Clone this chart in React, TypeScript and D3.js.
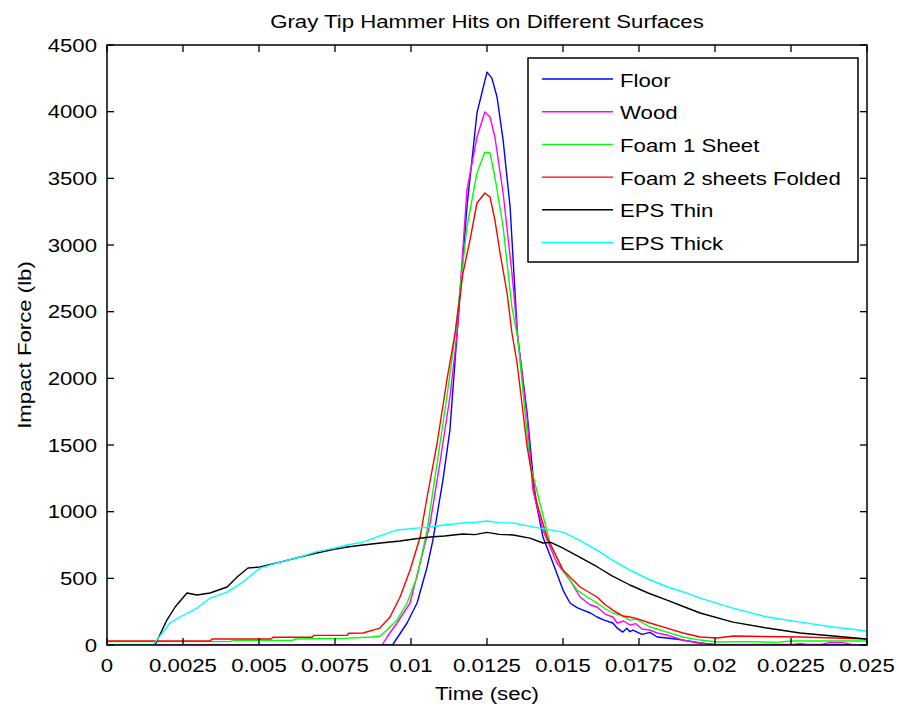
import React from "react";
import * as d3 from "d3";

const title = "Gray Tip Hammer Hits on Different Surfaces";
const xLabel = "Time (sec)";
const yLabel = "Impact Force (lb)";
const xTicks = [0, 0.0025, 0.005, 0.0075, 0.01, 0.0125, 0.015, 0.0175, 0.02, 0.0225, 0.025];
const xTickLabels = ["0", "0.0025", "0.005", "0.0075", "0.01", "0.0125", "0.015", "0.0175", "0.02", "0.0225", "0.025"];
const yTicks = [0, 500, 1000, 1500, 2000, 2500, 3000, 3500, 4000, 4500];

const seriesNames = ["Floor", "Wood", "Foam 1 Sheet", "Foam 2 sheets Folded", "EPS Thin", "EPS Thick"];
const seriesColors = ["#0000ff", "#ff00ff", "#00ff00", "#ff0000", "#000000", "#00ffff"];

const floorData: [number, number][] = [
  [0, 0], [0.0094, 2], [0.00987, 165], [0.0102, 315], [0.01053, 585], [0.01072, 787], [0.01105, 1237],
  [0.01128, 1612], [0.01151, 2320], [0.01184, 3285], [0.01217, 3990], [0.0125, 4297], [0.01266, 4252],
  [0.01283, 4110], [0.01303, 3787], [0.01326, 3285], [0.0135, 2330], [0.01382, 1740], [0.01408, 1110],
  [0.01434, 810], [0.01467, 615], [0.015, 412], [0.01523, 315], [0.01546, 280], [0.01566, 262], [0.0159, 240],
  [0.01612, 210], [0.01635, 187], [0.01664, 165], [0.01678, 127], [0.01697, 97], [0.0171, 125], [0.0172, 100],
  [0.0173, 112], [0.0176, 80], [0.01786, 95], [0.0181, 60], [0.01842, 52], [0.0187, 45], [0.01895, 37],
  [0.01951, 15], [0.0200, 3], [0.0225, 0], [0.0228, 8], [0.0231, 0], [0.025, 0]
];
const woodData: [number, number][] = [
  [0, 0], [0.00905, 0], [0.00921, 60], [0.00954, 165], [0.00997, 315], [0.0103, 615], [0.01063, 915],
  [0.01095, 1365], [0.01128, 1860], [0.01151, 2320], [0.01184, 3412], [0.01217, 3810], [0.01243, 3997],
  [0.0126, 3960], [0.01276, 3810], [0.01303, 3390], [0.01332, 2790], [0.01352, 2287], [0.01382, 1700],
  [0.01401, 1162], [0.01434, 862], [0.0148, 615], [0.01523, 487], [0.01556, 360], [0.0159, 300],
  [0.01612, 285], [0.0164, 230], [0.01664, 210], [0.01678, 165], [0.017, 180], [0.0172, 150], [0.0174, 160],
  [0.0176, 120], [0.01786, 112], [0.0181, 90], [0.01842, 75], [0.0187, 55], [0.01895, 37], [0.01951, 15],
  [0.0201, 3], [0.0235, 5], [0.0238, 20], [0.0242, 18], [0.0245, 5], [0.025, 0]
];
const foam1Data: [number, number][] = [
  [0, 25], [0.004, 25], [0.0042, 35], [0.0061, 35], [0.0062, 45], [0.0078, 50], [0.0087, 60], [0.00898, 67],
  [0.00921, 112], [0.00954, 187], [0.00987, 315], [0.0102, 510], [0.01053, 862], [0.01086, 1365],
  [0.01118, 1860], [0.01145, 2320], [0.01184, 3135], [0.01217, 3540], [0.01243, 3697], [0.0126, 3690],
  [0.01276, 3510], [0.01303, 3135], [0.01332, 2535], [0.01352, 2287], [0.01391, 1365], [0.01424, 1065],
  [0.01457, 765], [0.015, 562], [0.01546, 412], [0.0158, 360], [0.01612, 315], [0.0164, 270], [0.01664, 240],
  [0.0169, 225], [0.0172, 187], [0.0174, 195], [0.01786, 135], [0.0181, 120], [0.01842, 97], [0.01895, 60],
  [0.01951, 37], [0.02007, 22], [0.021, 25], [0.022, 20], [0.0225, 30], [0.0235, 30], [0.025, 30]
];
const foam2Data: [number, number][] = [
  [0, 30], [0.0034, 30], [0.00345, 45], [0.0054, 45], [0.00546, 58], [0.00675, 58], [0.0068, 72],
  [0.0079, 72], [0.00795, 88], [0.00842, 90], [0.00898, 127], [0.00931, 210], [0.00964, 360], [0.00997, 562],
  [0.0103, 810], [0.01053, 1110], [0.01086, 1515], [0.01118, 1987], [0.01145, 2340], [0.01171, 2790],
  [0.01194, 3037], [0.01217, 3315], [0.01243, 3390], [0.0126, 3360], [0.01276, 3187], [0.01293, 2940],
  [0.01316, 2640], [0.01332, 2340], [0.01349, 2115], [0.01382, 1485], [0.01414, 1065], [0.01447, 810],
  [0.015, 562], [0.01556, 435], [0.01612, 360], [0.0164, 300], [0.01664, 262], [0.01697, 217], [0.0172, 210],
  [0.0174, 200], [0.01786, 165], [0.01842, 127], [0.01895, 90], [0.01951, 60], [0.02007, 52], [0.0206, 67],
  [0.0228, 60], [0.0239, 52], [0.025, 45]
];
const epsThinData: [number, number][] = [
  [0, 0], [0.00158, 0], [0.00197, 187], [0.00224, 285], [0.00263, 390], [0.00296, 375], [0.00339, 390],
  [0.00395, 435], [0.00428, 510], [0.00464, 577], [0.00503, 585], [0.00569, 622], [0.00635, 660],
  [0.0069, 690], [0.00743, 715], [0.0079, 735], [0.00842, 750], [0.009, 765], [0.00964, 780], [0.0101, 795],
  [0.01063, 810], [0.0111, 818], [0.01171, 832], [0.0121, 828], [0.0125, 845], [0.0129, 830], [0.01336, 825],
  [0.01391, 802], [0.01434, 765], [0.0146, 770], [0.015, 727], [0.0155, 665], [0.01612, 587], [0.0166, 520],
  [0.0172, 450], [0.0178, 390], [0.01842, 337], [0.019, 285], [0.01951, 240], [0.02059, 172], [0.02171, 127],
  [0.0228, 90], [0.02388, 67], [0.025, 45]
];
const epsThickData: [number, number][] = [
  [0, 0], [0.00151, 0], [0.00174, 67], [0.00207, 165], [0.0024, 210], [0.00296, 277], [0.00339, 352],
  [0.00395, 397], [0.00447, 472], [0.00503, 577], [0.00569, 622], [0.00635, 660], [0.0069, 700],
  [0.00743, 725], [0.0079, 750], [0.00842, 772], [0.009, 820], [0.00954, 862], [0.0101, 875], [0.01063, 885],
  [0.0111, 900], [0.01171, 915], [0.0121, 920], [0.0125, 930], [0.0129, 918], [0.01336, 915], [0.0138, 895],
  [0.01424, 877], [0.015, 847], [0.0155, 790], [0.01612, 712], [0.0166, 640], [0.0172, 562], [0.0178, 495],
  [0.01842, 437], [0.019, 395], [0.01951, 352], [0.02059, 277], [0.02171, 210], [0.0228, 172], [0.02388, 135],
  [0.025, 105]
];

const allSeries = [floorData, woodData, foam1Data, foam2Data, epsThinData, epsThickData];

const W = 899, H = 708;
const L = 107, R = 867, T = 45, B = 645;
const FONT = "'Liberation Sans', Arial, Helvetica, sans-serif";
const FS = 18.5;
const SX = 1.2;

export default function App() {
  const x = d3.scaleLinear().domain([0, 0.025]).range([L, R]);
  const y = d3.scaleLinear().domain([0, 4500]).range([B, T]);
  const line = d3.line<[number, number]>().x(d => x(d[0])).y(d => y(d[1]));
  const tickLen = 7;
  const legX = 528, legY = 58, legW = 330, legH = 204;
  const rowH = 32.7;

  const txt = (s: string, tx: number, ty: number, anchor: string, rot = 0, key?: any) => (
    <text key={key} transform={`translate(${tx},${ty}) rotate(${rot}) scale(${SX},1)`} textAnchor={anchor}
      fontFamily={FONT} fontSize={FS} fill="#000">{s}</text>
  );

  return (
    <svg width={W} height={H} style={{ position: "absolute", left: 0, top: 0, background: "#fff" }}>
      <rect x={0} y={0} width={W} height={H} fill="#fff" />
      <defs>
        <clipPath id="plotclip"><rect x={L} y={T} width={R - L} height={B - T} /></clipPath>
      </defs>
      <g clipPath="url(#plotclip)">
        {allSeries.map((s, i) => (
          <path key={i} d={line(s) || ""} fill="none" stroke={seriesColors[i]} strokeWidth={1.4} strokeLinejoin="round" />
        ))}
      </g>
      <rect x={L} y={T} width={R - L} height={B - T} fill="none" stroke="#000" strokeWidth={1.5} />
      {xTicks.map((t, i) => (
        <g key={"xt" + i}>
          <line x1={x(t)} x2={x(t)} y1={B} y2={B - tickLen} stroke="#000" strokeWidth={1.3} />
          <line x1={x(t)} x2={x(t)} y1={T} y2={T + tickLen} stroke="#000" strokeWidth={1.3} />
          {txt(xTickLabels[i], x(t), 672, "middle")}
        </g>
      ))}
      {yTicks.map((v, i) => (
        <g key={"yt" + i}>
          <line x1={L} x2={L + tickLen} y1={y(v)} y2={y(v)} stroke="#000" strokeWidth={1.3} />
          <line x1={R} x2={R - tickLen} y1={y(v)} y2={y(v)} stroke="#000" strokeWidth={1.3} />
          {txt(String(v), 97, y(v) + 6.5, "end")}
        </g>
      ))}
      {txt(title, (L + R) / 2, 28, "middle")}
      {txt(xLabel, (L + R) / 2, 700, "middle")}
      {txt(yLabel, 31, (T + B) / 2, "middle", -90)}
      <rect x={legX} y={legY} width={legW} height={legH} fill="#fff" stroke="#000" strokeWidth={1.5} />
      {seriesNames.map((n, i) => {
        const ly = 79 + i * rowH;
        return (
          <g key={"lg" + i}>
            <line x1={542} x2={613} y1={ly} y2={ly} stroke={seriesColors[i]} strokeWidth={1.4} />
            {txt(n, 620, ly + 7.5, "start")}
          </g>
        );
      })}
    </svg>
  );
}
